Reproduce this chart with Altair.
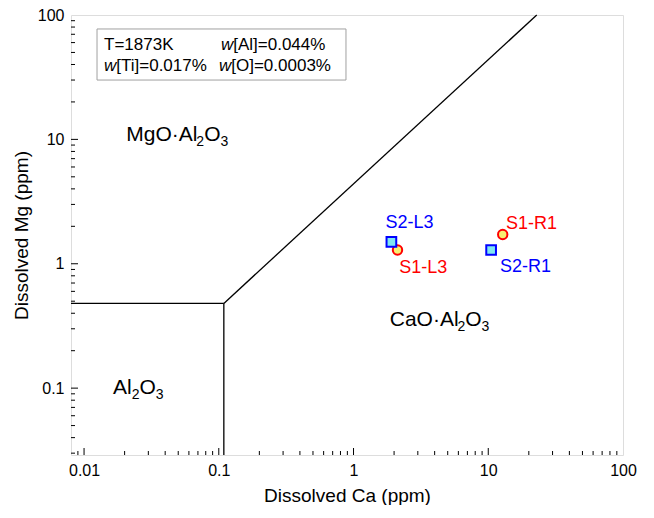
import altair as alt
import pandas as pd

FONT = "Liberation Sans"
W, H = 552, 440

# ---- axes ----
x_domain = [0.008, 100]
y_domain = [0.029, 100]
x_major = [0.01, 0.1, 1, 10, 100]
y_major = [0.1, 1, 10, 100]
x_minor = [0.009, 0.02, 0.03, 0.04, 0.05, 0.06, 0.07, 0.08, 0.09,
           0.2, 0.3, 0.4, 0.5, 0.6, 0.7, 0.8, 0.9,
           2, 3, 4, 5, 6, 7, 8, 9,
           20, 30, 40, 50, 60, 70, 80, 90]
y_minor = [0.03, 0.04, 0.05, 0.06, 0.07, 0.08, 0.09,
           0.2, 0.3, 0.4, 0.5, 0.6, 0.7, 0.8, 0.9,
           2, 3, 4, 5, 6, 7, 8, 9,
           20, 30, 40, 50, 60, 70, 80, 90]

# ---- phase boundaries (segments) ----
seg_x = [0.008, 0.109, 0.109]
seg_y = [0.48, 0.029, 0.48]
seg_x2 = [0.109, 0.109, 22.9]
seg_y2 = [0.48, 0.48, 100]

# ---- samples ----
s1_names = ["S1-L3", "S1-R1"]
s1_ca = [2.12, 12.8]
s1_mg = [1.29, 1.72]
s1_lab_ca = [3.29, 20.9]
s1_lab_mg = [0.93, 2.10]

s2_names = ["S2-L3", "S2-R1"]
s2_ca = [1.91, 10.5]
s2_mg = [1.50, 1.29]
s2_lab_ca = [2.6, 18.9]
s2_lab_mg = [2.14, 0.944]

# ---- region labels: (ca, mg) of left baseline, parts ----
regions = [
    (0.0206, 9.75, [("MgO·Al", False), ("2", True), ("O", False), ("3", True)]),
    (1.857, 0.318, [("CaO·Al", False), ("2", True), ("O", False), ("3", True)]),
    (0.0164, 0.0892, [("Al", False), ("2", True), ("O", False), ("3", True)]),
]

# ---- condition box ----
box_ca = [0.01248, 0.879]
box_mg = [30.0, 77.2]
cond_ca = [0.01406, 0.1038, 0.01406, 0.1003]
cond_mg = [52.3, 52.3, 35.5, 35.5]
cond_italic = ["", "w", "w", "w"]
cond_rest = ["T=1873K", "[Al]=0.044%", "[Ti]=0.017%", "[O]=0.0003%"]

# ---------------------------------------------------------------
xscale = alt.Scale(type="log", domain=x_domain, nice=False)
yscale = alt.Scale(type="log", domain=y_domain, nice=False)
xax = alt.Axis(values=x_major, format="~g", ticks=False, domain=False, grid=False,
               labelFontSize=16, labelPadding=7, labelColor="black", labelFont=FONT,
               labelOverlap=False, labelFlush=False,
               title="Dissolved Ca (ppm)", titleFontSize=19, titleFontWeight="normal",
               titleFont=FONT, titleColor="black", titlePadding=8)
yax = alt.Axis(values=y_major, format="~g", ticks=False, domain=False, grid=False,
               labelFontSize=16, labelPadding=7, labelColor="black", labelFont=FONT,
               labelOverlap=False, labelFlush=False,
               title="Dissolved Mg (ppm)", titleFontSize=19, titleFontWeight="normal",
               titleFont=FONT, titleColor="black", titlePadding=6)


def X(f):
    return alt.X(f, type="quantitative", scale=xscale, axis=xax)


def Y(f):
    return alt.Y(f, type="quantitative", scale=yscale, axis=yax)


layers = []

# boundaries
seg_df = pd.DataFrame({"x": seg_x, "y": seg_y, "x2": seg_x2, "y2": seg_y2})
layers.append(alt.Chart(seg_df).mark_rule(color="black", strokeWidth=1.3).encode(
    x=X("x"), y=Y("y"), x2="x2", y2="y2"))

# ticks (inward)
for vals, ln in [(x_major, 7), (x_minor, 4)]:
    df = pd.DataFrame({"x": [v for v in vals if x_domain[0] < v < x_domain[1]]})
    layers.append(alt.Chart(df).mark_rule(color="black", strokeWidth=1).encode(
        x=X("x"), y=alt.value(H), y2=alt.value(H - ln)))
for vals, ln in [(y_major, 7), (y_minor, 4)]:
    df = pd.DataFrame({"y": [v for v in vals if y_domain[0] < v < y_domain[1]]})
    layers.append(alt.Chart(df).mark_rule(color="black", strokeWidth=1).encode(
        y=Y("y"), x=alt.value(0), x2=alt.value(ln)))

# condition box
box_df = pd.DataFrame({"x": [box_ca[0]], "x2": [box_ca[1]], "y": [box_mg[0]], "y2": [box_mg[1]]})
layers.append(alt.Chart(box_df).mark_rect(fillOpacity=0, stroke="#a0a0a0", strokeWidth=1).encode(
    x=X("x"), x2="x2", y=Y("y"), y2="y2"))

CS = 17
cond_df = pd.DataFrame({"x": cond_ca, "y": cond_mg, "it": cond_italic, "rest": cond_rest})
layers.append(alt.Chart(cond_df).mark_text(align="left", baseline="alphabetic", fontSize=CS,
                                           font=FONT, fontStyle="italic", color="black").encode(
    x=X("x"), y=Y("y"), text="it:N"))
for i in range(len(cond_rest)):
    layers.append(alt.Chart(cond_df.iloc[[i]]).mark_text(
        align="left", baseline="alphabetic", fontSize=CS, font=FONT, color="black",
        dx=0 if cond_italic[i] == "" else 0.722 * CS).encode(
        x=X("x"), y=Y("y"), text="rest:N"))

# region formula labels
WID = {"M": .833, "g": .556, "O": .778, "·": .278, "A": .667, "l": .222,
       "C": .722, "a": .556, "2": .556, "3": .556}
RS, SS = 21, 14
for rx, ry, parts in regions:
    off = 0.0
    df = pd.DataFrame({"x": [rx], "y": [ry]})
    for txt, sub in parts:
        fs = SS if sub else RS
        layers.append(alt.Chart(df).mark_text(
            align="left", baseline="alphabetic", fontSize=fs, font=FONT, color="black",
            dx=off, dy=5 if sub else 0, text=txt).encode(x=X("x"), y=Y("y")))
        off += sum(WID[c] for c in txt) * fs

# sample points
s1_df = pd.DataFrame({"ca": s1_ca, "mg": s1_mg, "name": s1_names,
                      "lx": s1_lab_ca, "ly": s1_lab_mg})
s2_df = pd.DataFrame({"ca": s2_ca, "mg": s2_mg, "name": s2_names,
                      "lx": s2_lab_ca, "ly": s2_lab_mg})
layers.append(alt.Chart(s1_df).mark_point(shape="circle", filled=True, fill="#f8ef72",
                                          stroke="#ff0000", strokeWidth=2, size=88,
                                          opacity=1, fillOpacity=1).encode(x=X("ca"), y=Y("mg")))
layers.append(alt.Chart(s2_df).mark_point(shape="square", filled=True, fill="#7fe7f2",
                                          stroke="#0000ff", strokeWidth=2, size=94,
                                          opacity=1, fillOpacity=1).encode(x=X("ca"), y=Y("mg")))
layers.append(alt.Chart(s1_df).mark_text(fontSize=18, font=FONT, color="#ff0000",
                                         align="center", baseline="middle").encode(
    x=X("lx"), y=Y("ly"), text="name:N"))
layers.append(alt.Chart(s2_df).mark_text(fontSize=18, font=FONT, color="#0000ff",
                                         align="center", baseline="middle").encode(
    x=X("lx"), y=Y("ly"), text="name:N"))

chart = alt.layer(*layers).properties(
    width=W, height=H,
    autosize=alt.AutoSizeParams(type="none"),
    padding={"left": 63, "top": 7, "right": 20, "bottom": 50},
).configure_view(stroke="black", strokeWidth=1.3).configure(background="white")

chart.save("out.html", embed_options={"renderer": "svg", "actions": False})
